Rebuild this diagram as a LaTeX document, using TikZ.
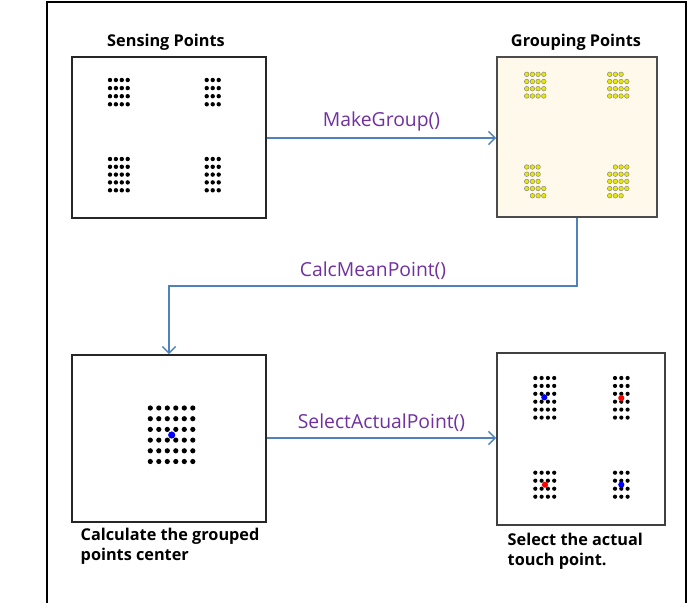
\documentclass[tikz,border=0pt]{standalone}
\usepackage{fontspec}
\setmainfont{Open Sans}
\usetikzlibrary{arrows.meta}
\definecolor{arrowblue}{HTML}{4F81BD}
\definecolor{labelpurple}{HTML}{7030A0}
\definecolor{cream}{HTML}{FFF9EC}
\definecolor{ydot}{HTML}{E8E800}
\begin{document}
\begin{tikzpicture}[x=0.75pt,y=-0.75pt,
  panel/.style={draw=black!85,line width=1.3pt,inner sep=0pt},
  flow/.style={draw=arrowblue,line width=1.1pt,-{Straight Barb[length=5pt,width=10pt,line width=1.1pt]}},
  fnlabel/.style={text=labelpurple,font=\fontsize{14.5}{16}\selectfont},
  title/.style={font=\bfseries\fontsize{12.2}{15}\selectfont,align=left},
  bdot/.style={fill=black},
  ydotst/.style={fill=ydot,draw=black!45,line width=0.4pt}]
\useasboundingbox (0,0) rectangle (691,602);
% outer frame
\draw[line width=2pt] (47,604) -- (47,2) -- (686,2) -- (686,604);

% panels
\node[panel,minimum width=145.5pt,minimum height=120.75pt] (b1) at (169,137.5) {};
\node[panel,fill=cream,draw=black!70,minimum width=120pt,minimum height=120pt] (b2) at (577,137) {};
\node[panel,minimum width=145.5pt,minimum height=125.25pt] (b3) at (169,438.5) {};
\node[panel,draw=black!75,minimum width=126pt,minimum height=129pt] (b4) at (581,439) {};

% titles
\node[title] (t1) at (166,42) {Sensing Points};
\node[title] (t2) at (576,42) {Grouping Points};
\node[title,anchor=west] (t3) at (76,546) {Calculate the grouped\\points center};
\node[title,anchor=west] (t4) at (503,551) {Select the actual\\touch point.};

% box1 dots
\foreach \x in {110,115.9,121.8,127.7}{\foreach \y in {80,88.1,96.2,104.3}{\fill[bdot] (\x,\y) circle (2.2);}}
\foreach \x in {206.7,212.7,218.7}{\foreach \y in {80,88.1,96.2,104.3}{\fill[bdot] (\x,\y) circle (2.2);}}
\foreach \x in {110,115.9,121.8,127.7}{\foreach \y in {159,166.8,174.6,182.4,190.3}{\fill[bdot] (\x,\y) circle (2.2);}}
\foreach \x in {206.7,212.7,218.7}{\foreach \y in {159,166.8,174.6,182.4,190.3}{\fill[bdot] (\x,\y) circle (2.2);}}

% box2 dots (grouped)
\def\ya{74.3}\def\yb{81.5}\def\yc{88.7}\def\yd{96}
% top-left 4x4
\foreach \x in {526.7,532.4,538.1,543.8}{\foreach \y in {\ya,\yb,\yc,\yd}{\draw[ydotst] (\x,\y) circle (2.3);}}
% top-right
\foreach \x in {609.7,615.4,621.1}{\draw[ydotst] (\x,\ya) circle (2.3);}
\foreach \x in {609.7,615.4,621.1,626.8}{\foreach \y in {\yb,\yc,\yd}{\draw[ydotst] (\x,\y) circle (2.3);}}
% bottom-left
\foreach \x in {526.7,532.4,538.1}{\foreach \y in {167,174.2,181.4}{\draw[ydotst] (\x,\y) circle (2.3);}}
\foreach \x in {526.7,532.4,538.1,543.8}{\draw[ydotst] (\x,188.5) circle (2.3);}
\foreach \x in {532.4,538.1,543.8}{\draw[ydotst] (\x,195.7) circle (2.3);}
% bottom-right
\foreach \x in {615.4,621.1,626.8}{\draw[ydotst] (\x,167) circle (2.3);}
\foreach \x in {609.7,615.4,621.1,626.8}{\foreach \y in {174.2,181.4,188.5}{\draw[ydotst] (\x,\y) circle (2.3);}}
\foreach \x in {609.7,615.4,621.1}{\draw[ydotst] (\x,195.7) circle (2.3);}

% box3 dots
\foreach \x in {150.3,158.8,167.3,175.8,184.3,192.8}{\foreach \y in {408,418.7,429.4,440.1,450.8,461.5}{\fill[bdot] (\x,\y) circle (2.6);}}
\fill[blue] (171.7,435) circle (3.6);

% box4 dots
\foreach \x in {535.3,541.6,547.9,554.2}{\foreach \y in {378,385.9,393.8,401.7,409.6,417.6}{\fill[bdot] (\x,\y) circle (2.1);}}
\foreach \x in {615,621.3,627.6}{\foreach \y in {378,385.9,393.8,401.7,409.6,417.6}{\fill[bdot] (\x,\y) circle (2.1);}}
\foreach \x in {535.3,541.6,547.9,554.2}{\foreach \y in {472.7,480.7,488.7,496.7}{\fill[bdot] (\x,\y) circle (2.1);}}
\foreach \x in {615,621.3,627.6}{\foreach \y in {472.7,480.7,488.7,496.7}{\fill[bdot] (\x,\y) circle (2.1);}}
\fill[blue] (544.3,397.3) circle (3.1);
\fill[red] (621.3,398) circle (3.1);
\fill[red] (545,484.7) circle (3.1);
\fill[blue] (621.3,484.7) circle (3.1);

% connectors
\draw[flow] (b1.east |- 0,138) -- node[fnlabel,above=1pt] (l1) {MakeGroup()} (b2.west |- 0,138);
\coordinate (turn) at (577,286);
\draw[flow] (b2.south) -- (turn) -| node[fnlabel,pos=0.25,above=1pt] (l2) {CalcMeanPoint()} (b3.north);
\draw[flow] (b3.east |- 0,438) -- node[fnlabel,above=1pt] (l3) {SelectActualPoint()} (b4.west |- 0,438);
\end{tikzpicture}
\end{document}
